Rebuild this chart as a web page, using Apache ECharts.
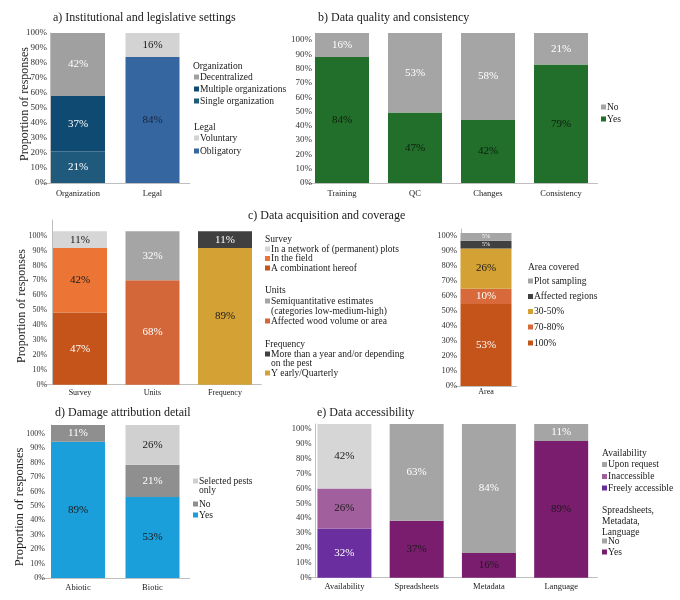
<!DOCTYPE html>
<html><head><meta charset="utf-8">
<script src="https://cdn.jsdelivr.net/npm/echarts/dist/echarts.min.js"></script>
<style>html,body{margin:0;padding:0;background:#fff}#c{width:680px;height:600px}</style>
</head><body><div id="c"></div>
<script>
// ---------- DATA ----------
// a) Institutional and legislative settings
const aCategories = ['Organization', 'Legal'];
const aSingle = [21, null];
const aMultiple = [37, null];
const aDecentralized = [42, null];
const aObligatory = [null, 84];
const aVoluntary = [null, 16];
// b) Data quality and consistency
const bCategories = ['Training', 'QC', 'Changes', 'Consistency'];
const bYes = [84, 47, 42, 79];
const bNo = [16, 53, 58, 21];
// c) Data acquisition and coverage
const cCategories = ['Survey', 'Units', 'Frequency'];
const cCombination = [47, null, null];
const cField = [42, null, null];
const cNetwork = [11, null, null];
const cAffectedWood = [null, 68, null];
const cSemiquant = [null, 32, null];
const cYearly = [null, null, 89];
const cMoreThanYear = [null, null, 11];
const areaCategories = ['Area'];
const area100 = [53];
const area7080 = [10];
const area3050 = [26];
const areaAffectedRegions = [5];
const areaPlotSampling = [5];
// d) Damage attribution detail
const dCategories = ['Abiotic', 'Biotic'];
const dYes = [89, 53];
const dNo = [11, 21];
const dSelected = [null, 26];
// e) Data accessibility
const eCategories = ['Availability', 'Spreadsheets', 'Metadata', 'Language'];
const eFreely = [32, null, null, null];
const eInaccessible = [26, null, null, null];
const eUponRequest = [42, null, null, null];
const eYes = [null, 37, 16, 89];
const eNo = [null, 63, 84, 11];
// tick labels
const tickStep = 10;
const tickMaxLabel = 100;

// ---------- STYLE ----------
const FONT = '"Liberation Serif", "Times New Roman", serif';
const TXT = '#1a1a1a';
const WHITE = '#ffffff';
const AX = '#bfbfbf';
const col = {
  aSingle: '#1f5a7d', aMultiple: '#0f4a73', aDecentralized: '#a0a0a0', aObligatory: '#35669f', aVoluntary: '#d3d3d3',
  bYes: '#226e2b', bNo: '#a5a5a5',
  cNetwork: '#d6d6d6', cField: '#ec7434', cCombination: '#c5541b', cSemiquant: '#a5a5a5', cWood: '#d4673a',
  cMore: '#404040', cYearly: '#d3a134',
  arPlot: '#a5a5a5', arRegions: '#404040', ar3050: '#d3a134', ar7080: '#d8693b', ar100: '#c5541b',
  dYes: '#1a9fda', dNo: '#8f8f8f', dSelected: '#d0d0d0',
  eUpon: '#d6d6d6', eInacc: '#a25f9e', eFreely: '#6a2e9f', eNo: '#a5a5a5', eYes: '#7b1d6f'
};

// panel layout: grid box, label-axis max (L), bar-axis max (B)
const panels = [
  { cats: aCategories, left: 40.75, top: 33, width: 149, height: 150, L: 100, B: 100, off: -9.25, line: true, tf: 9, cf: 8.5, lm: 3, cm: 6, bw: 54 },
  { cats: bCategories, left: 305.5, top: 33, width: 292, height: 150, L: 104.9, B: 100, off: -8.5, line: false, tf: 9, cf: 8.5, lm: 2, cm: 6, bw: 54 },
  { cats: cCategories, left: 43.75, top: 220, width: 217.5, height: 164.7, L: 110.5, B: 107.3, off: -8.5, line: true, tf: 8, cf: 8, lm: 5, cm: 4, bw: 54 },
  { cats: areaCategories, left: 455.5, top: 229, width: 61, height: 157, L: 104.7, B: 101.6, off: -5.5, line: true, tf: 8.5, cf: 8, lm: 4, cm: 2, bw: 51 },
  { cats: dCategories, left: 40.75, top: 425, width: 149, height: 153, L: 106.25, B: 100, off: -10.25, line: true, tf: 8, cf: 8.5, lm: 6, cm: 5, bw: 54 },
  { cats: eCategories, left: 308.3, top: 424, width: 289, height: 153.7, L: 103.4, B: 100, off: -7.4, line: true, tf: 8.5, cf: 8.5, lm: 4, cm: 5, bw: 54 }
];

const grids = [], xAxes = [], yAxes = [];
panels.forEach((p, i) => {
  grids.push({ left: p.left, top: p.top, width: p.width, height: p.height, containLabel: false, outerBoundsMode: 'none' });
  xAxes.push({
    type: 'category', gridIndex: i, data: p.cats,
    axisLine: { show: true, lineStyle: { color: AX, width: 1 } },
    axisTick: { show: false },
    axisLabel: { color: TXT, fontFamily: FONT, fontSize: p.cf, margin: p.cm, interval: 0 }
  });
});
panels.forEach((p, i) => {
  yAxes.push({ type: 'value', gridIndex: i, min: 0, max: p.B, show: false, splitLine: { show: false } });
});
panels.forEach((p, i) => {
  yAxes.push({
    type: 'value', gridIndex: i, min: 0, max: p.L, interval: tickStep, position: 'left', offset: p.off,
    axisLine: { show: p.line, lineStyle: { color: AX, width: 1 } },
    axisTick: { show: false }, splitLine: { show: false },
    axisLabel: {
      color: '#333', fontFamily: FONT, fontSize: p.tf, margin: p.lm, showMaxLabel: p.L <= tickMaxLabel,
      formatter: v => (v <= tickMaxLabel + 1e-6 ? Math.round(v) + '%' : '')
    }
  });
});

function bar(gi, name, data, color, labelColor, fs) {
  return {
    type: 'bar', name: name, xAxisIndex: gi, yAxisIndex: gi, stack: 's' + gi, data: data,
    barWidth: panels[gi].bw, itemStyle: { color: color },
    label: { show: true, position: 'inside', formatter: p => p.value + '%', color: labelColor, fontFamily: FONT, fontSize: fs || 11 },
    emphasis: { disabled: true }, silent: true, animation: false
  };
}

const series = [
  bar(0, 'Single organization', aSingle, col.aSingle, WHITE),
  bar(0, 'Multiple organizations', aMultiple, col.aMultiple, WHITE),
  bar(0, 'Decentralized', aDecentralized, col.aDecentralized, WHITE),
  bar(0, 'Obligatory', aObligatory, col.aObligatory, '#18243c'),
  bar(0, 'Voluntary', aVoluntary, col.aVoluntary, TXT),
  bar(1, 'Yes', bYes, col.bYes, '#0d1f0d'),
  bar(1, 'No', bNo, col.bNo, WHITE),
  bar(2, 'A combinationt hereof', cCombination, col.cCombination, WHITE),
  bar(2, 'In the field', cField, col.cField, TXT),
  bar(2, 'In a network of (permanent) plots', cNetwork, col.cNetwork, TXT),
  bar(2, 'Affected wood volume or area', cAffectedWood, col.cWood, WHITE),
  bar(2, 'Semiquantitative estimates', cSemiquant, col.cSemiquant, WHITE),
  bar(2, 'Y early/Quarterly', cYearly, col.cYearly, TXT),
  bar(2, 'More than a year', cMoreThanYear, col.cMore, WHITE),
  bar(3, '100%', area100, col.ar100, WHITE),
  bar(3, '70-80%', area7080, col.ar7080, WHITE),
  bar(3, '30-50%', area3050, col.ar3050, TXT),
  bar(3, 'Affected regions', areaAffectedRegions, col.arRegions, WHITE, 6),
  bar(3, 'Plot sampling', areaPlotSampling, col.arPlot, WHITE, 6),
  bar(4, 'Yes', dYes, col.dYes, TXT),
  bar(4, 'No', dNo, col.dNo, WHITE),
  bar(4, 'Selected pests only', dSelected, col.dSelected, TXT),
  bar(5, 'Freely accessible', eFreely, col.eFreely, WHITE),
  bar(5, 'Inaccessible', eInaccessible, col.eInacc, TXT),
  bar(5, 'Upon request', eUponRequest, col.eUpon, TXT),
  bar(5, 'Yes', eYes, col.eYes, TXT),
  bar(5, 'No', eNo, col.eNo, WHITE)
];

// ---------- TEXT / LEGENDS (graphic) ----------
const G = [];
function txt(x, y, text, size, opts) {
  G.push(Object.assign({ type: 'text', x: x, y: y, silent: true,
    style: { text: text, fill: TXT, font: size + 'px ' + FONT, align: 'left', verticalAlign: 'middle' } }, opts || {}));
}
function head(x, y, text, size, lh) {
  if (lh) {
    G.push({ type: 'text', x: x, y: y - lh / 2, silent: true,
      style: { text: text, fill: TXT, font: size + 'px ' + FONT, align: 'left', verticalAlign: 'top', lineHeight: lh } });
  } else txt(x, y, text, size);
}
function item(x, y, color, text, size, lh) {
  G.push({ type: 'rect', silent: true, shape: { x: x, y: y - 2.5, width: 5, height: 5 }, style: { fill: color } });
  const l = lh || size + 1;
  G.push({ type: 'text', x: x + 6, y: y - l / 2, silent: true,
    style: { text: text, fill: TXT, font: size + 'px ' + FONT, align: 'left', verticalAlign: 'top', lineHeight: l } });
}
function yname(x, y, size) {
  G.push({ type: 'text', x: x, y: y, rotation: Math.PI / 2, silent: true,
    style: { text: 'Proportion of responses', fill: TXT, font: size + 'px ' + FONT, align: 'center', verticalAlign: 'middle' } });
}

// titles
txt(53, 18, 'a) Institutional and legislative settings', 12);
txt(318, 18, 'b) Data quality and consistency', 12);
txt(248, 216, 'c) Data acquisition and coverage', 12);
txt(55, 413, 'd) Damage attribution detail', 12);
txt(317, 413, 'e) Data accessibility', 12);
// axis names
yname(25, 104, 12);
yname(22, 306, 12);
yname(20, 507, 12.5);

// legend a
head(193, 66, 'Organization', 9.5);
item(194, 77, col.aDecentralized, 'Decentralized', 9.5);
item(194, 89, col.aMultiple, 'Multiple organizations', 9.5);
item(194, 101, col.aSingle, 'Single organization', 9.5);
head(194, 127, 'Legal', 9.5);
item(194, 138, col.aVoluntary, 'Voluntary', 9.5);
item(194, 151, col.aObligatory, 'Obligatory', 9.5);
// legend b
item(601, 107, col.bNo, 'No', 9.5);
item(601, 119, col.bYes, 'Yes', 9.5);
// legend c
head(265, 239, 'Survey', 9.5);
item(265, 249, col.cNetwork, 'In a network of (permanent) plots', 9.5);
item(265, 258.5, col.cField, 'In the field', 9.5);
item(265, 268, col.cCombination, 'A combinationt hereof', 9.5);
head(265, 290, 'Units', 9.5);
item(265, 301, col.cSemiquant, 'Semiquantitative estimates\n(categories low-medium-high)', 9.5, 10);
item(265, 321, col.cWood, 'Affected wood volume or area', 9.5);
head(265, 344, 'Frequency', 9.5);
item(265, 354, col.cMore, 'More than a year and/or depending\non the pest', 9.5, 9.5);
item(265, 373, col.cYearly, 'Y early/Quarterly', 9.5);
// legend area
head(528, 267, 'Area covered', 9.5);
item(528, 281, col.arPlot, 'Plot sampling', 9.5);
item(528, 296.5, col.arRegions, 'Affected regions', 9.5);
item(528, 311.5, col.ar3050, '30-50%', 9.5);
item(528, 327, col.ar7080, '70-80%', 9.5);
item(528, 343, col.ar100, '100%', 9.5);
// legend d
item(193, 481, col.dSelected, 'Selected pests\nonly', 9.5, 9.5);
item(193, 504, col.dNo, 'No', 9.5);
item(193, 515, col.dYes, 'Yes', 9.5);
// legend e
head(602, 453, 'Availability', 9.5);
item(602, 464.5, col.eNo, 'Upon request', 9.5);
item(602, 476.5, col.eInacc, 'Inaccessible', 9.5);
item(602, 488, col.eFreely, 'Freely accessible', 9.5);
head(602, 510, 'Spreadsheets,\nMetadata,\nLanguage', 9.5, 11);
item(602, 541, col.eNo, 'No', 9.5);
item(602, 552, col.eYes, 'Yes', 9.5);

const chart = echarts.init(document.getElementById('c'), null, { renderer: 'canvas' });
chart.setOption({
  backgroundColor: '#ffffff',
  animation: false,
  grid: grids, xAxis: xAxes, yAxis: yAxes, series: series,
  graphic: G,
  legend: { show: false }, tooltip: { show: false }
});
</script></body></html>
